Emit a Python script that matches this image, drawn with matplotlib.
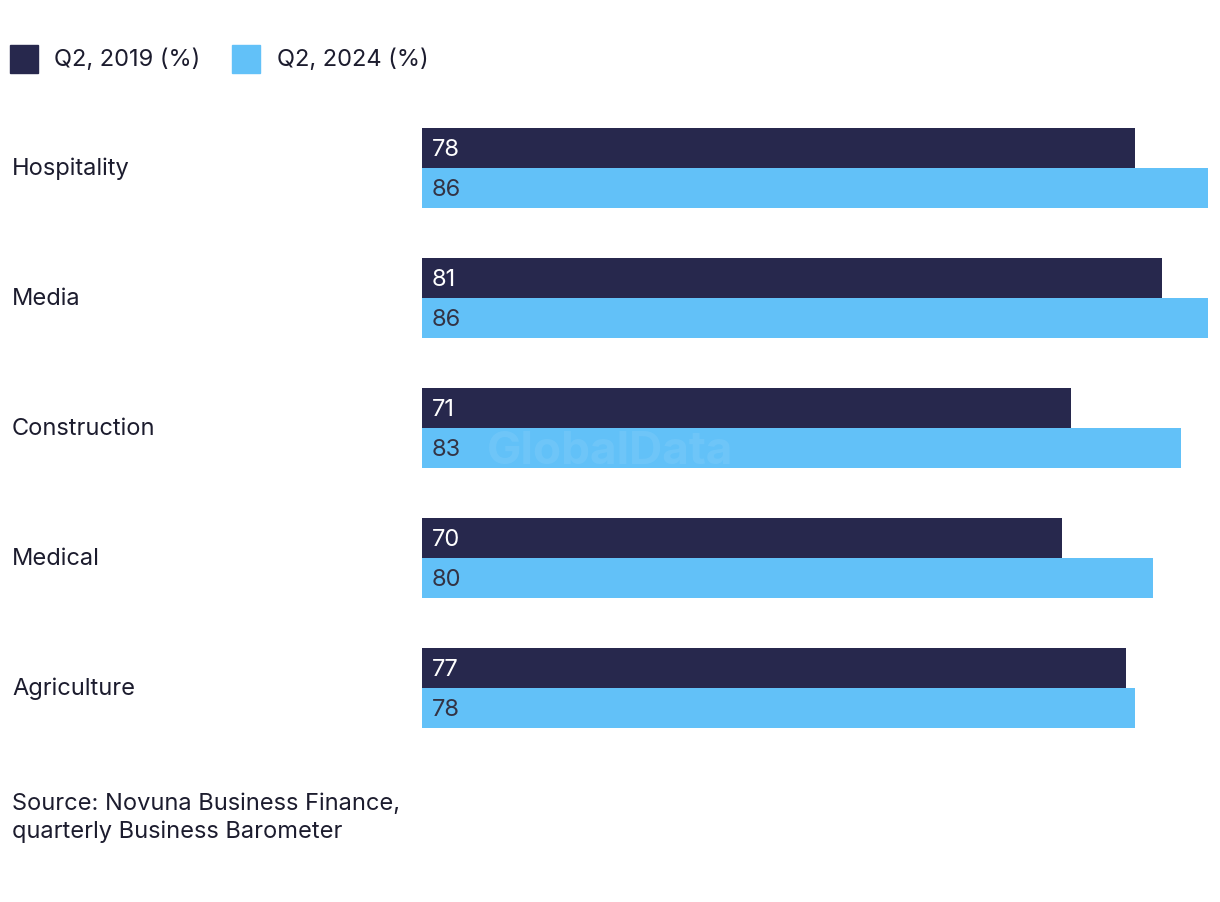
import matplotlib
matplotlib.use("Agg")
from matplotlib import pyplot as plt
from matplotlib.patches import Rectangle

categories = ["Hospitality", "Media", "Construction", "Medical", "Agriculture"]
q2_2019 = [78, 81, 71, 70, 77]
q2_2024 = [86, 86, 83, 80, 78]
series_labels = ["Q2, 2019 (%)", "Q2, 2024 (%)"]
source_text = "Source: Novuna Business Finance,\nquarterly Business Barometer"

dark = "#27284d"
light = "#62c1f8"
text_col = "#1c1c2e"

plt.rcParams["font.family"] = ["Inter", "DejaVu Sans"]

W, H = 1220, 902
fig = plt.figure(figsize=(W / 100, H / 100), dpi=100)

# axes spans pixel rows 103..753, columns 422..1208
ax = fig.add_axes([422 / W, 1 - 753 / H, (1208 - 422) / W, 650 / H])
bh = 40 / 130
ys = list(range(len(categories)))
ax.barh([y - bh / 2 for y in ys], q2_2019, height=bh, color=dark)
ax.barh([y + bh / 2 for y in ys], q2_2024, height=bh, color=light)
ax.set_xlim(0, 86)
ax.set_ylim(len(categories) - 0.5, -0.5)
ax.axis("off")

fs = 17
for y, a, b in zip(ys, q2_2019, q2_2024):
    ax.text(1.1, y - bh / 2 + 0.012, str(a), color="white", fontsize=fs, va="center", ha="left")
    ax.text(1.1, y + bh / 2 + 0.012, str(b), color="#333344", fontsize=fs, va="center", ha="left")

for y, c in zip(ys, categories):
    fig.text(12 / W, 1 - (169 + 130 * y) / H, c, fontsize=fs, color=text_col,
             va="center", ha="left")

# watermark
fig.text(610 / W, 1 - 452 / H, "GlobalData", fontsize=33, fontweight="bold",
         color="white", alpha=0.08, ha="center", va="center")

# legend
for x0, tx, col, lab in [(10, 54, dark, series_labels[0]), (232, 277, light, series_labels[1])]:
    fig.patches.append(Rectangle((x0 / W, 1 - 73 / H), 28 / W, 28 / H,
                                 transform=fig.transFigure, color=col))
    fig.text(tx / W, 1 - 60 / H, lab, fontsize=fs, color=text_col, va="center", ha="left")

fig.text(12 / W, 1 - 818 / H, source_text, fontsize=fs, color=text_col,
         va="center", ha="left", linespacing=1.3)

fig.savefig("out.png", dpi=100)
